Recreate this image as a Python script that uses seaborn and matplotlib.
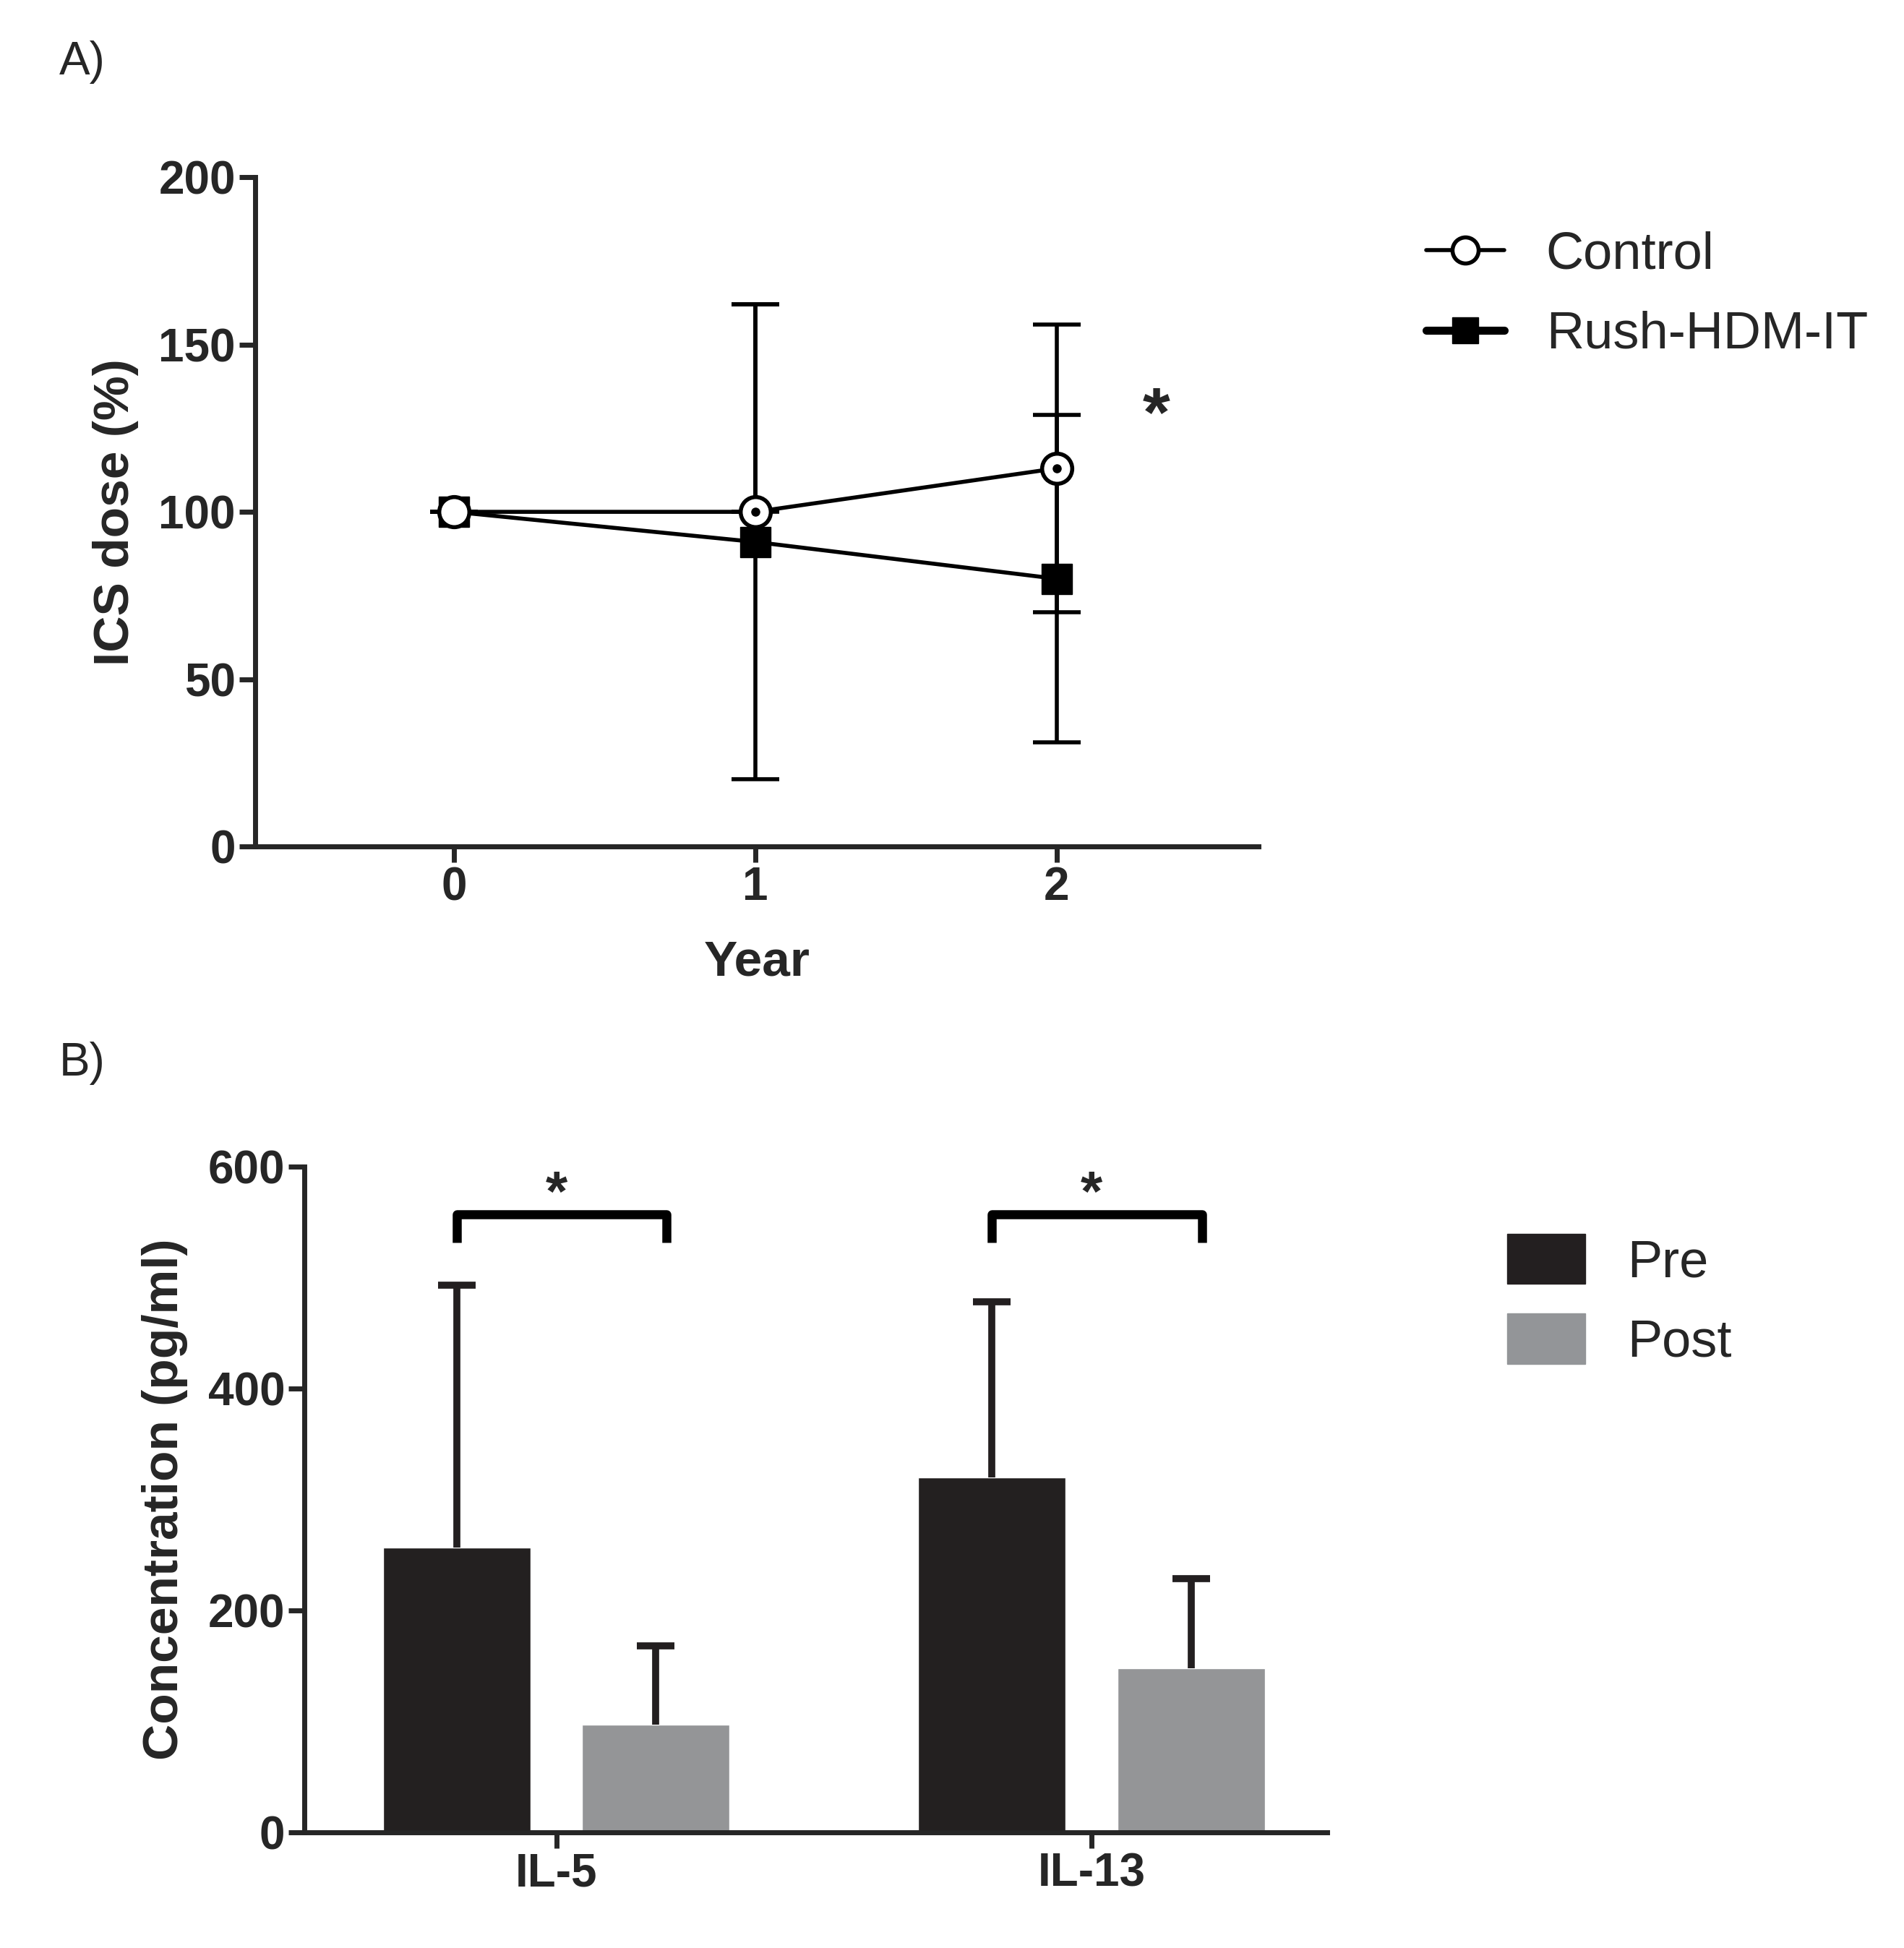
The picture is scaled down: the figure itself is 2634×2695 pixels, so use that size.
import numpy as np
import pandas as pd
import matplotlib
matplotlib.use("Agg")
import matplotlib.pyplot as plt
import seaborn as sns
from matplotlib.lines import Line2D
from matplotlib.patches import Patch

# Panel A data
years = [0, 1, 2]
control_mean = [100, 100, 113]
control_err_lo = [0, 0, 43]
control_err_hi = [0, 62, 43]
rush_mean = [100, 91, 80]
rush_err = [0, 71, 49]

# Panel B data
cytokines = ["IL-5", "IL-13"]
phases = ["Pre", "Post"]
pre_mean = [257, 320]
pre_err = [236, 158]
post_mean = [97, 148]
post_err = [71, 81]

sns.set_style("ticks")
plt.rcParams["font.family"] = "Liberation Sans"

fig = plt.figure(figsize=(26.34, 26.95), dpi=100)
LW = 5

# ---- Panel A ----
axA = fig.add_axes([0.134, 0.5655, 0.527, 0.3435])
dfA = pd.DataFrame({"Year": years * 2,
                    "dose": control_mean + rush_mean,
                    "group": ["Control"] * 3 + ["Rush-HDM-IT"] * 3})
sns.lineplot(data=dfA, x="Year", y="dose", hue="group",
             palette=["black", "black"], linewidth=4, legend=False, ax=axA)
axA.errorbar(years, rush_mean, yerr=rush_err, fmt="s", color="black",
             ms=30, elinewidth=4, capsize=24, capthick=4, zorder=4)
axA.errorbar(years, control_mean, yerr=[control_err_lo, control_err_hi], fmt="o",
             mfc="white", mec="black", mew=4, ms=30, ecolor="black",
             elinewidth=4, capsize=24, capthick=4, zorder=5)
axA.plot(years[1:], control_mean[1:], "o", ms=8, color="black", zorder=6)
axA.set_xlim(-0.66, 2.67)
axA.set_ylim(0, 200)
axA.set_xticks(years)
axA.set_yticks([0, 50, 100, 150, 200])
axA.set_xlabel("Year", fontsize=50, fontweight="bold", labelpad=30)
axA.set_ylabel("ICS dose (%)", fontsize=50, fontweight="bold", labelpad=20)
axA.text(2.33, 128, "*", fontsize=70, fontweight="bold", ha="center", va="center")
handlesA = [Line2D([], [], color="black", lw=4, marker="o", mfc="white",
                   mec="black", mew=4, ms=26, label="Control"),
            Line2D([], [], color="black", lw=8, marker="s", ms=26,
                   label="Rush-HDM-IT")]
axA.legend(handles=handlesA, loc="upper left", bbox_to_anchor=(1.12, 0.99),
           frameon=False, fontsize=52, handlelength=1.5, labelspacing=0.6)

# ---- Panel B ----
axB = fig.add_axes([0.160, 0.0594, 0.537, 0.3416])
dfB = pd.DataFrame({"cytokine": cytokines * 2,
                    "conc": pre_mean + post_mean,
                    "phase": ["Pre"] * 2 + ["Post"] * 2})
sns.barplot(data=dfB, x="cytokine", y="conc", hue="phase", order=cytokines,
            hue_order=phases, palette=["#231f20", "#939598"], width=0.744,
            gap=0.26, errorbar=None, legend=False, ax=axB)
offs = 0.186
xs_pre = np.arange(2) - offs
xs_post = np.arange(2) + offs
tops_pre = np.array(pre_mean) + np.array(pre_err)
tops_post = np.array(post_mean) + np.array(post_err)
axB.vlines(xs_pre, pre_mean, tops_pre, color="#231f20", lw=7)
axB.vlines(xs_post, post_mean, tops_post, color="#231f20", lw=7)
axB.hlines(tops_pre, xs_pre - 0.035, xs_pre + 0.035, color="#231f20", lw=7)
axB.hlines(tops_post, xs_post - 0.035, xs_post + 0.035, color="#231f20", lw=7)
for i in range(2):
    axB.plot([xs_pre[i], xs_pre[i], xs_post[i] + 0.02, xs_post[i] + 0.02],
             [532, 557, 557, 532], color="black", lw=9, solid_capstyle="butt")
    axB.text(i, 574, "*", fontsize=56, fontweight="bold", ha="center", va="center")
axB.set_xlim(-0.47, 1.44)
axB.set_ylim(0, 600)
axB.set_yticks([0, 200, 400, 600])
axB.set_xlabel("")
axB.set_ylabel("Concentration (pg/ml)", fontsize=50, fontweight="bold", labelpad=20)
handlesB = [Patch(color="#231f20", label="Pre"), Patch(color="#939598", label="Post")]
axB.legend(handles=handlesB, loc="upper left", bbox_to_anchor=(1.13, 0.97),
           frameon=False, fontsize=52, handlelength=1.5, handleheight=1.1,
           labelspacing=0.5)

for ax in (axA, axB):
    sns.despine(ax=ax)
    for s in ("left", "bottom"):
        ax.spines[s].set_linewidth(LW)
    ax.tick_params(width=LW, length=16, labelsize=46)
    for t in ax.get_xticklabels() + ax.get_yticklabels():
        t.set_fontweight("bold")

fig.text(0.031, 0.968, "A)", fontsize=46, va="center")
fig.text(0.031, 0.454, "B)", fontsize=46, va="center")

fig.savefig("out.png", dpi=100)
